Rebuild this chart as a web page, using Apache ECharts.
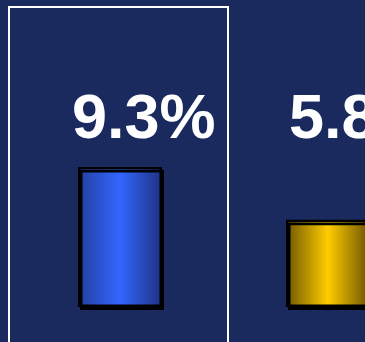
<!DOCTYPE html>
<html>
<head>
<meta charset="utf-8">
<script src="https://cdn.jsdelivr.net/npm/echarts@6/dist/echarts.min.js"></script>
<style>
  html, body { margin: 0; padding: 0; background: #1b2a5e; }
  #chart { width: 365px; height: 342px; }
</style>
</head>
<body>
<div id="chart"></div>
<script>
// values
const categories = ['A', 'B'];
const values = [9.3, 5.8];
const labels = ['9.3%', '5.8%'];

const fills = [
  // blue, then gold
  ['#22409e', '#3366ff', '#1f3282'],
  ['#6e5600', '#ffcc00', '#6a5200']
];
// label left edge relative to the bar's left edge
const labelShift = [-6, 3];

const myChart = echarts.init(document.getElementById('chart'));

const seriesData = values.map((v, i) => ({
  value: v,
  itemStyle: {
    color: new echarts.graphic.LinearGradient(0, 0, 1, 0, [
      {offset: 0, color: fills[i][0]},
      {offset: 0.5, color: fills[i][1]},
      {offset: 1, color: fills[i][2]}
    ])
  },
  label: {
    formatter: labels[i]
  }
}));

const option = {
  backgroundColor: '#1b2a5e',
  animation: false,
  grid: {left: 16, width: 416, top: 6, bottom: 35, outerBoundsMode: 'none', containLabel: false},
  xAxis: {
    type: 'category',
    data: categories,
    show: false
  },
  yAxis: {
    type: 'value',
    min: 0,
    max: 20,
    show: false
  },
  graphic: [
    {
      type: 'rect',
      shape: {x: 9, y: 7, width: 219, height: 345},
      style: {fill: null, stroke: '#ffffff', lineWidth: 2}
    }
  ],
  series: [
    {
      type: 'bar',
      data: seriesData,
      barWidth: 84,
      itemStyle: {
        borderColor: '#000000',
        borderWidth: 2.5,
        shadowColor: '#000000',
        shadowBlur: 0,
        shadowOffsetX: 2,
        shadowOffsetY: 3
      },
      label: {
        show: true,
        position: 'top',
        color: '#ffffff',
        fontFamily: 'Liberation Sans, Arial, sans-serif',
        fontWeight: 'bold',
        fontSize: 63
      },
      labelLayout: function (params) {
        return {
          x: params.rect.x + labelShift[params.dataIndex],
          y: 121,
          align: 'left',
          verticalAlign: 'middle'
        };
      }
    }
  ]
};

myChart.setOption(option);
</script>
</body>
</html>
